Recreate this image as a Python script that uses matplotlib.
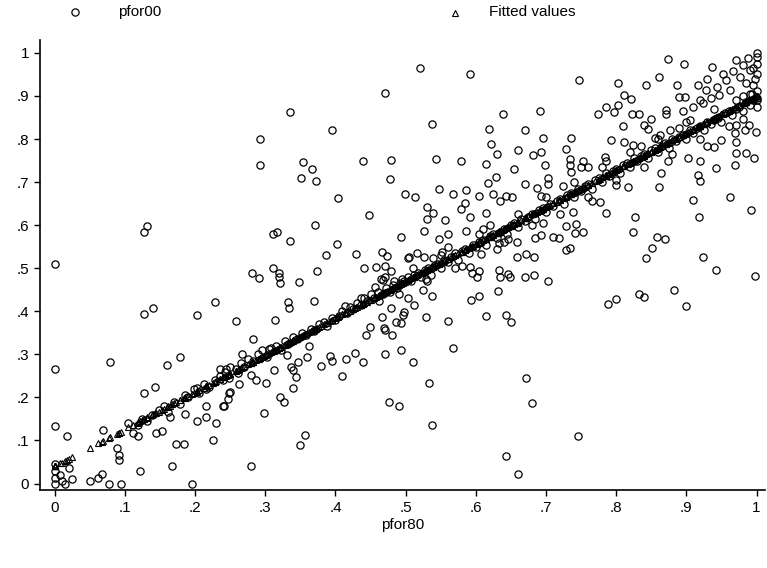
import matplotlib
matplotlib.use("Agg")
import matplotlib.pyplot as plt
import numpy as np

# pfor80 / pfor00 pairs, grouped by region
upper_right = [
    (.874, .985), (.896, .974), (.861, .945), (.937, .968), (.802, .931), (.842, .926),
    (.886, .925), (.917, .926), (.930, .940), (.952, .951), (.811, .902), (.821, .892),
    (.890, .897), (.898, .897), (.786, .875), (.802, .878), (.774, .857), (.797, .863),
    (.823, .857), (.832, .857), (.871, .868), (.871, .857), (.849, .847), (.810, .830),
    (.839, .833), (.845, .823), (.793, .798), (.811, .793), (.824, .786), (.835, .784),
    (.930, .784), (.939, .781), (.950, .798), (.971, .792), (.971, .767), (.985, .767),
    (.997, .755), (.980, .847), (.989, .832), (.971, .832), (.999, .817), (.969, .813),
    (.983, .821), (.969, .740), (.784, .758), (.786, .748), (.874, .750), (.903, .755),
    (.919, .748), (.942, .732), (.864, .722), (.916, .717), (.920, .702), (.800, .693),
    (.817, .689), (.861, .688), (.760, .736), (1.0, 1.0), (.988, .988), (.971, .984),
    (.980, .972), (.966, .957), (.990, .961), (.976, .945), (.957, .937), (.943, .922),
    (.985, .930), (.995, .926), (.962, .914), (.928, .914), (.935, .895), (.947, .902),
    (.919, .891), (.909, .875), (.924, .883), (.895, .864), (.905, .844), (.890, .825),
    (.876, .821), (.862, .809), (.855, .802), (1.0, .99), (1.0, .975), (.995, .965),
    (1.0, .95), (.998, .94), (1.0, .912), (.993, .905), (1.0, .89),
]

upper_middle = [
    (.471, .906), (.335, .863), (.395, .820), (.292, .800), (.292, .739), (.354, .747),
    (.367, .730), (.351, .710), (.372, .702), (.439, .750), (.479, .751), (.478, .707),
    (.521, .964), (.591, .951), (.747, .937), (.537, .835), (.638, .858), (.691, .865),
    (.619, .824), (.670, .820), (.696, .803), (.736, .803), (.622, .788), (.630, .765),
    (.660, .775), (.681, .762), (.693, .770), (.728, .778), (.543, .753), (.579, .750),
    (.615, .741), (.655, .731), (.699, .739), (.734, .753), (.734, .739), (.753, .750),
    (.750, .734), (.736, .724), (.618, .699), (.629, .711), (.670, .696), (.703, .710),
    (.703, .696), (.724, .691), (.687, .686), (.547, .683), (.586, .682),
]

left_side = [
    (0.0, .51), (.131, .597), (.127, .584), (.140, .407), (.127, .394), (.203, .391),
    (.229, .421), (0.0, .267), (.079, .282), (.160, .276), (.178, .293), (0.0, .134),
    (.017, .111), (.069, .124), (.127, .210), (.143, .225), (.203, .221), (.216, .219),
    (.216, .180), (.240, .180), (.249, .210), (.186, .161), (.202, .146), (.216, .154),
    (.230, .140), (.119, .111), (.144, .117), (.153, .122), (.164, .154), (.173, .091),
    (.184, .091), (.225, .101), (.088, .082), (.091, .066), (.091, .055), (.067, .022),
    (.122, .029), (.167, .041), (.024, .011), (.014, 0.0), (0.0, 0.0), (.077, 0.0),
    (.094, 0.0), (.195, 0.0), (0.0, .03), (0.0, .012), (.008, .02), (.02, .035),
    (0.0, .045), (.01, .005), (.05, .005), (.062, .012),
]

centre = [
    (.404, .662), (.499, .672), (.448, .624), (.371, .600), (.311, .580), (.317, .584),
    (.335, .563), (.402, .556), (.494, .572), (.387, .531), (.429, .532), (.466, .538),
    (.473, .528), (.503, .524), (.281, .490), (.291, .477), (.311, .501), (.320, .490),
    (.319, .480), (.321, .465), (.348, .469), (.373, .494), (.440, .500), (.458, .502),
    (.471, .505), (.479, .494), (.465, .476), (.468, .473), (.457, .457), (.484, .471),
    (.495, .474), (.332, .422), (.334, .407), (.369, .425), (.258, .378), (.314, .380),
    (.436, .430), (.413, .413), (.479, .408), (.467, .386), (.449, .364), (.469, .361),
    (.486, .374), (.493, .372), (.497, .399), (.496, .391),
    (.514, .666), (.567, .672), (.604, .668), (.624, .672), (.635, .655), (.643, .668),
    (.652, .666), (.693, .668), (.530, .642), (.539, .628), (.531, .614), (.585, .652),
    (.579, .637), (.556, .612), (.591, .620), (.614, .628), (.526, .587), (.560, .580),
    (.547, .567), (.586, .587), (.605, .580), (.633, .559), (.646, .567), (.658, .561),
    (.684, .570), (.693, .577), (.710, .573), (.719, .570), (.728, .597), (.743, .603),
    (.752, .583), (.741, .581), (.738, .630), (.696, .604), (.728, .542), (.734, .546),
    (.505, .525), (.516, .536), (.526, .527), (.539, .523), (.552, .538), (.607, .533),
    (.658, .527), (.671, .533), (.683, .525), (.592, .502), (.604, .494), (.601, .479),
    (.594, .488), (.633, .496), (.646, .487), (.634, .480), (.649, .480), (.670, .479),
    (.683, .484), (.703, .470), (.529, .475), (.524, .449), (.537, .436), (.504, .430),
    (.512, .414), (.631, .448), (.604, .436), (.593, .426), (.529, .386), (.560, .377),
    (.615, .389), (.643, .392), (.650, .374),
]

lower_right = [
    (.766, .657), (.777, .654), (.786, .628), (.827, .620), (.910, .659), (.962, .666),
    (.992, .635), (.918, .618), (.824, .585), (.858, .573), (.869, .567), (.851, .546),
    (.843, .523), (.924, .527), (.942, .496), (.998, .483), (.883, .449), (.833, .440),
    (.839, .433), (.799, .429), (.789, .418), (.900, .413),
    (.567, .314), (.510, .282), (.533, .234), (.672, .244), (.680, .188), (.538, .136),
    (.746, .110), (.643, .064), (.660, .021),
]

lower_middle = [
    (.282, .336), (.267, .301), (.235, .265), (.244, .265), (.261, .256), (.240, .240),
    (.249, .244), (.262, .231), (.250, .213), (.247, .196), (.241, .180), (.280, .252),
    (.287, .240), (.301, .234), (.305, .312), (.331, .298), (.362, .319), (.312, .264),
    (.346, .282), (.336, .271), (.340, .264), (.360, .293), (.344, .247), (.339, .223),
    (.321, .202), (.327, .190), (.298, .163), (.380, .273), (.392, .296), (.395, .285),
    (.415, .289), (.428, .302), (.439, .283), (.410, .250), (.444, .345), (.470, .357),
    (.481, .346), (.470, .301), (.494, .310), (.476, .189), (.491, .180), (.356, .113),
    (.350, .089), (.280, .041),
]

# observations sitting on / next to the fitted line (mostly hidden under the triangles)
along_line = [
    (.105, .14), (.112, .118), (.118, .135), (.125, .15), (.132, .145), (.138, .16),
    (.148, .17), (.155, .18), (.162, .165), (.17, .19), (.178, .185), (.185, .205),
    (.19, .2), (.198, .22), (.205, .21), (.212, .23), (.22, .225), (.228, .24),
    (.236, .25), (.243, .26), (.25, .27), (.258, .265), (.265, .28), (.27, .27),
    (.276, .29), (.283, .285), (.29, .3), (.295, .31), (.302, .295), (.308, .315),
    (.315, .32), (.322, .31), (.328, .33), (.333, .325), (.34, .34), (.345, .335),
    (.352, .35), (.358, .345), (.365, .36), (.37, .355), (.376, .37), (.383, .375),
    (.388, .365), (.395, .385), (.40, .38), (.405, .39), (.41, .4), (.416, .395),
    (.42, .41), (.425, .405), (.43, .42), (.436, .415), (.44, .43), (.445, .425),
    (.45, .44), (.455, .43), (.46, .445), (.462, .425), (.468, .44), (.472, .455),
    (.477, .445), (.482, .46), (.488, .455), (.492, .465), (.498, .47), (.503, .48),
    (.508, .47), (.512, .485), (.518, .49), (.522, .48), (.527, .495), (.532, .5),
    (.536, .485), (.541, .505), (.546, .51), (.55, .5), (.555, .52), (.56, .515),
    (.565, .525), (.57, .535), (.575, .52), (.58, .54), (.585, .545), (.59, .535),
    (.596, .555), (.6, .55), (.605, .56), (.61, .565), (.615, .555), (.62, .575),
    (.625, .58), (.63, .57), (.635, .585), (.64, .59), (.645, .58), (.65, .6),
    (.655, .605), (.66, .595), (.665, .615), (.67, .61), (.675, .62), (.68, .625),
    (.685, .615), (.69, .635), (.695, .64), (.7, .63), (.705, .65), (.71, .645),
    (.715, .655), (.72, .66), (.725, .65), (.73, .67), (.735, .675), (.74, .665),
    (.745, .685), (.75, .68), (.755, .69), (.76, .695), (.765, .685), (.77, .705),
    (.775, .71), (.78, .7), (.785, .72), (.79, .715), (.795, .725), (.8, .73),
    (.805, .72), (.81, .74), (.815, .745), (.82, .735), (.825, .755), (.83, .75),
    (.835, .76), (.84, .765), (.845, .755), (.85, .775), (.855, .78), (.86, .77),
    (.865, .785), (.87, .79), (.875, .78), (.88, .8), (.885, .795), (.89, .805),
    (.895, .81), (.9, .8), (.905, .82), (.91, .815), (.915, .825), (.92, .83),
    (.925, .82), (.93, .84), (.935, .835), (.94, .845), (.945, .85), (.95, .84),
    (.955, .86), (.96, .865), (.965, .855), (.97, .87), (.975, .875), (.98, .865),
    (.985, .885), (.99, .88), (.995, .89), (1.0, .895), (1.0, .875), (.99, .905),
    (.98, .9), (.97, .89),
    (.47, .48), (.49, .44), (.51, .5), (.53, .47), (.56, .55), (.58, .505),
    (.61, .59), (.63, .545), (.66, .625), (.68, .6), (.7, .665), (.72, .625),
    (.74, .7), (.76, .665), (.78, .735), (.8, .705), (.82, .77), (.84, .735),
    (.86, .8), (.88, .765), (.9, .84), (.92, .8), (.94, .87), (.96, .83),
    (.62, .6), (.64, .56), (.55, .53), (.57, .5),
]

# OLS line (pfor00 = a + b * pfor80)
FIT_INTERCEPT = 0.04
FIT_SLOPE = 0.86

TICKS = [0, .1, .2, .3, .4, .5, .6, .7, .8, .9, 1]
TICK_LABELS = ["0", ".1", ".2", ".3", ".4", ".5", ".6", ".7", ".8", ".9", "1"]


def main() -> None:
    plt.rcParams["font.family"] = ["Liberation Sans", "DejaVu Sans"]

    pts = np.array(upper_right + upper_middle + left_side + centre
                   + lower_right + lower_middle + along_line)
    pfor80 = pts[:, 0]
    pfor00 = pts[:, 1]
    fitted = FIT_INTERCEPT + FIT_SLOPE * pfor80

    fig = plt.figure(figsize=(7.67, 5.68), dpi=100)
    ax = fig.add_axes([40 / 767, 1 - 490 / 568, 725 / 767, 450 / 568])

    ax.plot(pfor80, pfor00, linestyle="None", marker="o", markersize=5.2,
            markerfacecolor="none", markeredgecolor="black", markeredgewidth=0.9)
    ax.plot(pfor80, fitted, linestyle="None", marker="^", markersize=5.0,
            markerfacecolor="none", markeredgecolor="black", markeredgewidth=0.8)

    ax.set_xlim(-0.021, 1.012)
    ax.set_ylim(-0.015, 1.03)
    ax.set_xticks(TICKS)
    ax.set_xticklabels(TICK_LABELS)
    ax.set_yticks(TICKS)
    ax.set_yticklabels(TICK_LABELS)
    ax.tick_params(direction="out", length=4, width=1, labelsize=11, pad=4)
    ax.set_xlabel("pfor80", fontsize=11, labelpad=2)

    for side in ("top", "right"):
        ax.spines[side].set_visible(False)
    for side in ("left", "bottom"):
        ax.spines[side].set_linewidth(1.2)

    # key above the plot region, Stata style (no frame)
    key = fig.add_axes([0, 1 - 26 / 568, 1, 26 / 568])
    key.set_xlim(0, 767)
    key.set_ylim(0, 26)
    key.axis("off")
    key.plot([75], [14], marker="o", markersize=5.2, markerfacecolor="none",
             markeredgecolor="black", markeredgewidth=0.9)
    key.text(118, 14, "pfor00", fontsize=11, va="center")
    key.plot([455], [13], marker="^", markersize=5.0, markerfacecolor="none",
             markeredgecolor="black", markeredgewidth=0.8)
    key.text(489, 14, "Fitted values", fontsize=11, va="center")

    fig.savefig("out.png", dpi=100)


if __name__ == "__main__":
    main()
